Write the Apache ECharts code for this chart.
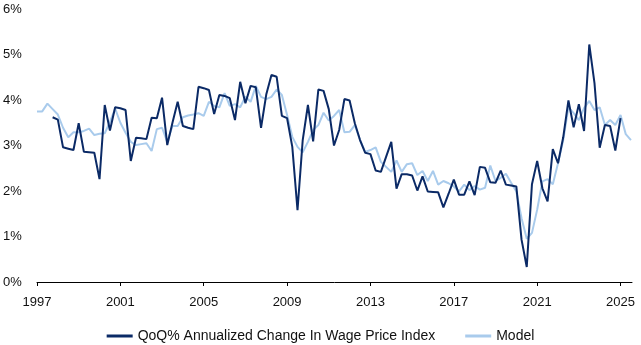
<!DOCTYPE html>
<html>
<head>
<meta charset="utf-8">
<script src="https://cdn.jsdelivr.net/npm/echarts@6/dist/echarts.min.js"></script>
<style>
  html, body { margin: 0; padding: 0; background: #fff; }
  #chart { width: 641px; height: 345px; }
</style>
</head>
<body>
<div id="chart"></div>
<script>
// Quarterly series, first observation given by its start year (decimal, quarter steps of 0.25)
const wageStart = 1997.75;
const wageValues = [
  3.62, 3.57, 2.96, 2.93, 2.90, 3.49, 2.86, 2.85, 2.84, 2.26, 3.89, 3.33, 3.84,
  3.82, 3.78, 2.66, 3.17, 3.16, 3.14, 3.61, 3.60, 4.05, 3.01, 3.50, 3.96,
  3.43, 3.39, 3.36, 4.29, 4.26, 4.22, 3.69, 4.11, 4.09, 4.04, 3.56, 4.40,
  3.93, 4.31, 4.28, 3.39, 4.12, 4.55, 4.51, 3.65, 3.60, 2.97, 1.58, 3.12,
  3.89, 3.09, 4.23, 4.20, 3.80, 3.00, 3.34, 4.02, 3.99, 3.49, 3.12, 2.84,
  2.81, 2.45, 2.42, 2.75, 3.08, 2.05, 2.37, 2.37, 2.34, 2.01, 2.32, 1.99,
  1.98, 1.97, 1.64, 1.94, 2.25, 1.92, 1.92, 2.21, 1.91, 2.53, 2.51, 2.19,
  2.18, 2.45, 2.14, 2.12, 2.10, 0.93, 0.33, 2.15, 2.66, 2.06, 1.77, 2.92,
  2.61, 3.18, 3.99, 3.40, 3.91, 3.32, 5.22, 4.37, 2.95, 3.45, 3.43, 2.89,
  3.60
];

const modelStart = 1997.0;
const modelValues = [
  3.75, 3.75, 3.92, 3.80, 3.68, 3.39, 3.18, 3.29, 3.29, 3.32, 3.37, 3.23,
  3.26, 3.27, 3.52, 3.81, 3.50, 3.28, 3.08, 3.01, 3.03, 3.05, 2.88, 3.36,
  3.39, 3.08, 3.43, 3.43, 3.62, 3.66, 3.68, 3.71, 3.65, 3.96, 3.87, 3.84,
  4.15, 3.87, 3.91, 3.84, 4.07, 3.96, 4.31, 4.07, 4.02, 4.07, 4.23, 4.11,
  3.67, 3.19, 2.97, 2.85, 3.08, 3.34, 3.45, 3.72, 3.55, 3.65, 3.78, 3.29,
  3.30, 3.45, 3.12, 2.86, 2.90, 2.96, 2.64, 2.53, 2.42, 2.67, 2.42, 2.59,
  2.61, 2.35, 2.44, 2.22, 2.44, 2.14, 2.22, 2.17, 2.10, 1.99, 2.14, 2.02,
  2.11, 2.03, 2.07, 2.56, 2.22, 2.29, 2.38, 2.18, 1.99, 1.40, 0.95, 1.08,
  1.59, 2.21, 2.26, 2.15, 2.61, 3.12, 3.84, 3.71, 3.56, 3.82, 3.98, 3.78,
  3.84, 3.45, 3.56, 3.45, 3.67, 3.25, 3.12
];

const yearTicks = [1997, 2001, 2005, 2009, 2013, 2017, 2021, 2025];
const percentTicks = [0, 1, 2, 3, 4, 5, 6];

const wageName = 'QoQ% Annualized Change In Wage Price Index';
const modelName = 'Model';

function toPoints(start, values) {
  return values.map((v, i) => [start + i * 0.25, v]);
}

const FONT = '"Liberation Sans", Arial, sans-serif';
const TEXT = '#111111';
const chart = echarts.init(document.getElementById('chart'), null, { renderer: 'canvas' });

chart.setOption({
  animation: false,
  backgroundColor: '#ffffff',
  grid: { left: 36, right: 9, top: 9, bottom: 63, containLabel: false },
  legend: {
    top: 324,
    left: 'center',
    itemGap: 30,
    itemWidth: 26,
    itemHeight: 3,
    icon: 'rect',
    textStyle: { fontFamily: FONT, fontSize: 14, color: TEXT },
    data: [wageName, modelName]
  },
  xAxis: {
    type: 'value',
    min: 1997,
    max: 2025.55,
    splitLine: { show: false },
    axisLine: { show: true, lineStyle: { color: '#000', width: 1 } },
    axisTick: {
      show: true, length: 4, inside: false,
      lineStyle: { color: '#000' },
      customValues: yearTicks
    },
    axisLabel: {
      customValues: yearTicks,
      margin: 14,
      fontFamily: FONT, fontSize: 13, color: TEXT,
      formatter: v => String(Math.round(v))
    }
  },
  yAxis: {
    type: 'value',
    min: 0,
    max: 6,
    interval: 1,
    splitLine: { show: false },
    axisLine: { show: false },
    axisTick: { show: false },
    axisLabel: {
      customValues: percentTicks,
      align: 'left',
      margin: 34,
      fontFamily: FONT, fontSize: 13, color: TEXT,
      formatter: v => v + '%'
    }
  },
  series: [
    {
      name: modelName,
      type: 'line',
      data: toPoints(modelStart, modelValues),
      showSymbol: false,
      symbol: 'none',
      z: 2,
      lineStyle: { color: '#a9cbec', width: 2 },
      itemStyle: { color: '#a9cbec' }
    },
    {
      name: wageName,
      type: 'line',
      data: toPoints(wageStart, wageValues),
      showSymbol: false,
      symbol: 'none',
      z: 3,
      lineStyle: { color: '#0b2a66', width: 2 },
      itemStyle: { color: '#0b2a66' }
    }
  ]
});
</script>
</body>
</html>
